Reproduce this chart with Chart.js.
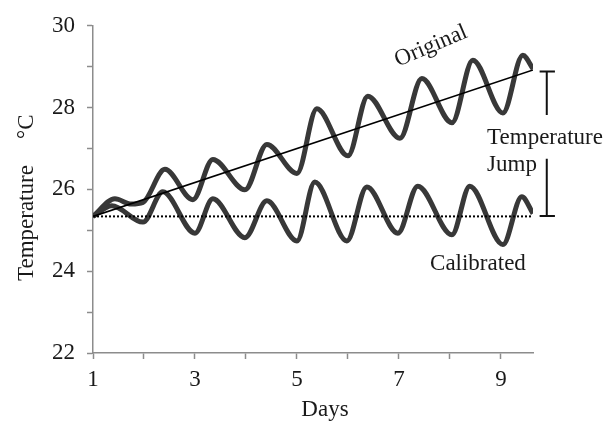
<!DOCTYPE html>
<html>
<head>
<meta charset="utf-8">
<script src="https://cdn.jsdelivr.net/npm/chart.js@4.4.1/dist/chart.umd.min.js"></script>
<style>
  body { margin: 0; background: #fff; }
</style>
</head>
<body>
<canvas id="chart" width="605" height="422"></canvas>
<script>
// values (days, deg C)
const originalDays = [1, 1.43, 1.75, 1.98, 2.41, 2.96, 3.35, 3.98, 4.41, 5.0, 5.39, 6.0, 6.39, 7.02, 7.45, 8.04, 8.45, 9.04, 9.43, 9.63];
const originalTemp = [25.34, 25.77, 25.64, 25.68, 26.49, 25.75, 26.73, 25.99, 27.1, 26.39, 27.97, 26.82, 28.28, 27.25, 28.71, 27.63, 29.16, 27.87, 29.28, 28.95];

const calibratedDays = [1, 1.37, 1.98, 2.37, 3.0, 3.35, 3.98, 4.41, 5.0, 5.35, 5.98, 6.37, 6.98, 7.37, 8.04, 8.39, 9.04, 9.41, 9.63];
const calibratedTemp = [25.34, 25.6, 25.2, 25.94, 24.93, 25.77, 24.82, 25.72, 24.74, 26.18, 24.74, 26.06, 24.93, 26.08, 24.89, 26.08, 24.65, 25.82, 25.41];

const trendDays = [1, 9.63];
const trendTemp = [25.34, 28.92];
const baselineDays = [1, 9.63];
const baselineTemp = [25.34, 25.34];

const dayLabels = [1, 3, 5, 7, 9];
const tempLabels = [22, 24, 26, 28, 30];

const toPoints = (xs, ys) => xs.map((x, i) => ({ x: x, y: ys[i] }));
const serif = '"Liberation Serif", "Times New Roman", serif';
const axisGray = '#8c8c8c';
const textColor = '#1a1a1a';
const fontSize = 23;

// labels, bracket and axis titles drawn by hand
const annotations = {
  id: 'annotations',
  afterDraw(chart) {
    const { ctx, scales: { x, y } } = chart;
    ctx.save();
    ctx.fillStyle = textColor;
    ctx.strokeStyle = '#111';
    ctx.font = fontSize + 'px ' + serif;

    // "Original", tilted along the trend
    ctx.save();
    ctx.translate(x.getPixelForValue(7.63), y.getPixelForValue(29.5));
    ctx.rotate(-23 * Math.PI / 180);
    ctx.textAlign = 'center';
    ctx.textBaseline = 'middle';
    ctx.fillText('Original', 0, 0);
    ctx.restore();

    ctx.textAlign = 'center';
    ctx.textBaseline = 'middle';
    ctx.fillText('Calibrated', x.getPixelForValue(8.55), y.getPixelForValue(24.17));

    ctx.textAlign = 'left';
    ctx.fillText('Temperature', x.getPixelForValue(8.73), y.getPixelForValue(27.25));
    ctx.fillText('Jump', x.getPixelForValue(8.73), y.getPixelForValue(26.6));

    // bracket
    const bx = x.getPixelForValue(9.9);
    const capL = x.getPixelForValue(9.76), capR = x.getPixelForValue(10.06);
    const top = y.getPixelForValue(28.88), bot = y.getPixelForValue(25.35);
    ctx.lineWidth = 2;
    ctx.beginPath();
    ctx.moveTo(capL, top); ctx.lineTo(capR, top);
    ctx.moveTo(bx, top); ctx.lineTo(bx, y.getPixelForValue(27.82));
    ctx.moveTo(bx, y.getPixelForValue(26.75)); ctx.lineTo(bx, bot);
    ctx.moveTo(capL, bot); ctx.lineTo(capR, bot);
    ctx.stroke();

    // axis titles
    ctx.textAlign = 'center';
    ctx.fillText('Days', x.getPixelForValue(5.55), 410);

    ctx.save();
    ctx.translate(27, 0);
    ctx.rotate(-Math.PI / 2);
    ctx.textAlign = 'left';
    ctx.fillText('Temperature', -281, 0);
    ctx.fillText('°C', -139, 0);
    ctx.restore();

    ctx.restore();
  }
};

const thick = { borderColor: '#383838', borderWidth: 5, pointRadius: 0, cubicInterpolationMode: 'monotone', fill: false };

new Chart(document.getElementById('chart'), {
  type: 'line',
  data: {
    datasets: [
      { data: toPoints(trendDays, trendTemp), borderColor: '#000', borderWidth: 1.6, pointRadius: 0 },
      { data: toPoints(baselineDays, baselineTemp), borderColor: '#000', borderWidth: 2, borderDash: [2, 2], pointRadius: 0 },
      Object.assign({ data: toPoints(originalDays, originalTemp) }, thick),
      Object.assign({ data: toPoints(calibratedDays, calibratedTemp) }, thick)
    ]
  },
  options: {
    responsive: false,
    animation: false,
    layout: { padding: { top: 17, right: 72, left: 0, bottom: 0 } },
    plugins: { legend: { display: false }, tooltip: { enabled: false } },
    scales: {
      x: {
        type: 'linear',
        min: 1,
        max: 9.63,
        afterFit: s => { s.height = 69; },
        border: { display: true, color: axisGray, width: 1.5 },
        grid: { drawOnChartArea: false, tickLength: 6, color: axisGray, tickWidth: 1.5 },
        ticks: {
          stepSize: 1,
          includeBounds: false,
          padding: 7,
          maxRotation: 0,
          autoSkip: false,
          color: textColor,
          font: { family: serif, size: fontSize },
          callback: v => dayLabels.includes(v) ? String(v) : ''
        }
      },
      y: {
        min: 22,
        max: 30,
        afterFit: s => { s.width = 93; },
        border: { display: true, color: axisGray, width: 1.5 },
        grid: { drawOnChartArea: false, tickLength: 6, color: axisGray, tickWidth: 1.5 },
        ticks: {
          stepSize: 1,
          padding: 12,
          autoSkip: false,
          color: textColor,
          font: { family: serif, size: fontSize },
          callback: v => tempLabels.includes(v) ? String(v) : ''
        }
      }
    }
  },
  plugins: [annotations]
});
</script>
</body>
</html>
